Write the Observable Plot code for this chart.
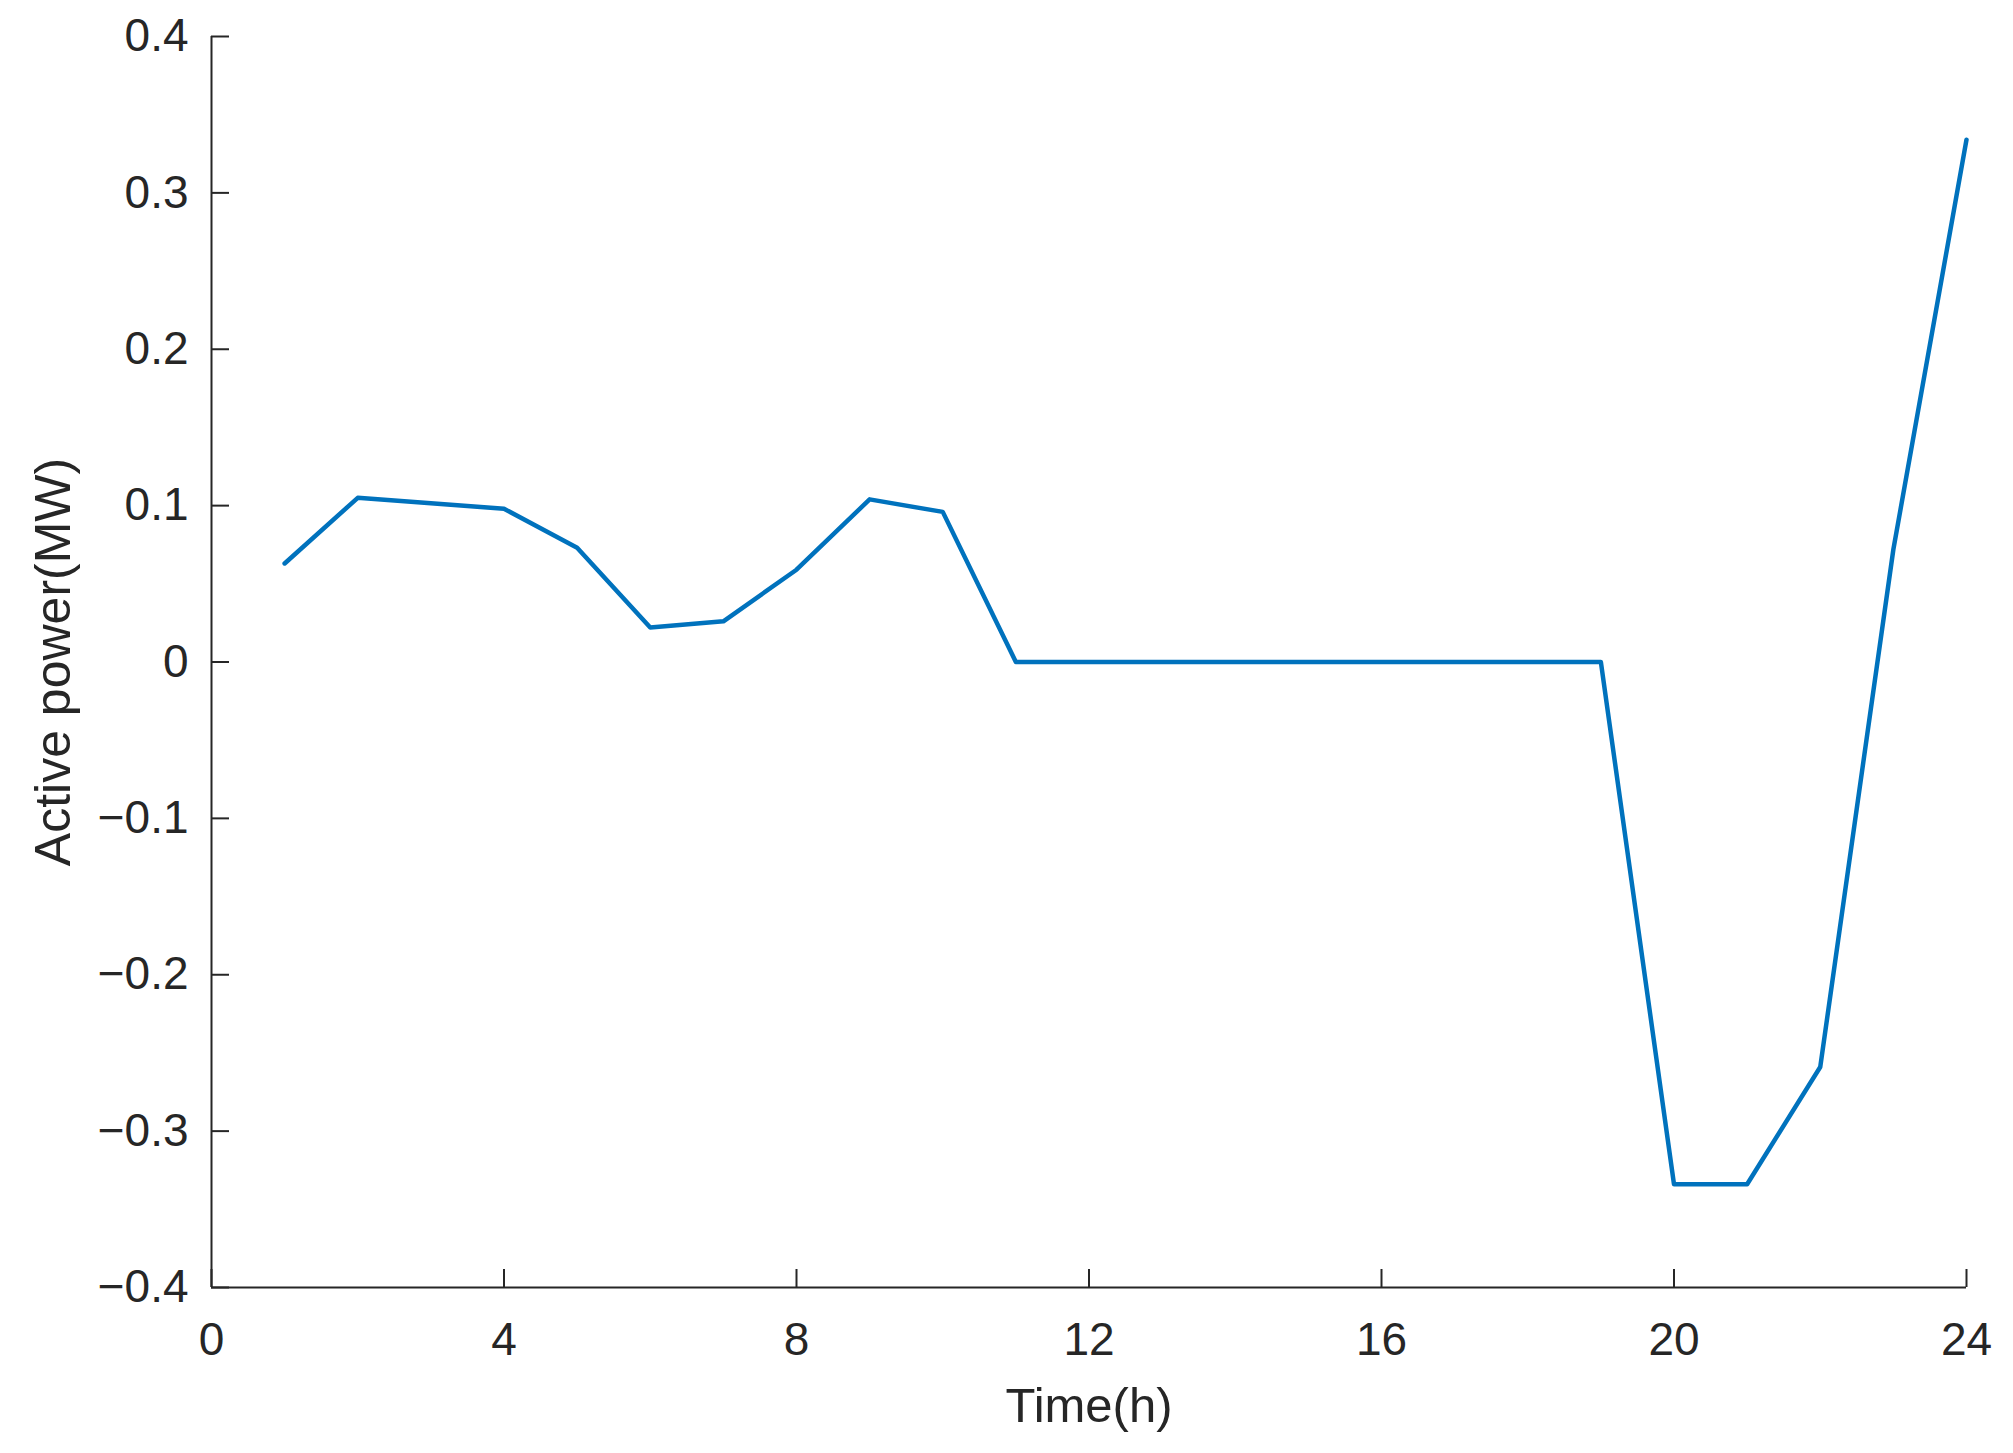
<!DOCTYPE html>
<html>
<head>
<meta charset="utf-8">
<script src="https://cdn.jsdelivr.net/npm/d3@7"></script>
<script src="https://cdn.jsdelivr.net/npm/@observablehq/plot@0.6"></script>
<style>
  html, body { margin: 0; padding: 0; background: #fff; }
  #chart { width: 2013px; height: 1453px; }
</style>
</head>
<body>
<div id="chart"></div>
<script>
// Data
const hours = [1,2,3,4,5,6,7,8,9,10,11,12,13,14,15,16,17,18,19,20,21,22,23,24];
const activePower = [0.063,0.105,0.1015,0.098,0.073,0.022,0.026,0.059,0.104,0.096,0,0,0,0,0,0,0,0,0,-0.334,-0.334,-0.259,0.072,0.334];
const xTicks = [0,4,8,12,16,20,24];
const yTicks = [-0.4,-0.3,-0.2,-0.1,0,0.1,0.2,0.3,0.4];
const xLabel = "Time(h)";
const yLabel = "Active power(MW)";

const rows = hours.map((h, i) => ({h, p: activePower[i]}));
const axisColor = "#262626";
const fmt = d => d === 0 ? "0" : d.toFixed(1).replace("-", "\u2212");

const chart = Plot.plot({
  width: 2013,
  height: 1453,
  marginLeft: 211,
  marginRight: 47,
  marginTop: 36,
  marginBottom: 166,
  style: {fontFamily: "'Liberation Sans', Arial, sans-serif", fontSize: "45px", color: axisColor, background: "#fff"},
  x: {domain: [0, 24]},
  y: {domain: [-0.4, 0.4]},
  marks: [
    // tick labels
    Plot.axisX({ticks: xTicks, tickSize: 0, tickPadding: 35, tickFormat: d => String(d), fontSize: 46, fill: axisColor, label: null}),
    Plot.axisY({ticks: yTicks, tickSize: 0, tickPadding: 23, tickFormat: fmt, fontSize: 46, fill: axisColor, label: null}),
    // inward ticks
    Plot.ruleX(xTicks, {x: d => d, y1: -0.4, y2: -0.4, insetBottom: 18, stroke: axisColor, strokeWidth: 2}),
    Plot.ruleY(yTicks, {y: d => d, x1: 0, x2: 0, insetLeft: 18, stroke: axisColor, strokeWidth: 2}),
    // axis lines
    Plot.ruleX([0], {stroke: axisColor, strokeWidth: 2}),
    Plot.ruleY([-0.4], {stroke: axisColor, strokeWidth: 2}),
    // data line
    Plot.line(rows, {x: "h", y: "p", stroke: "#0072BD", strokeWidth: 4.5}),
    // axis titles
    Plot.text([xLabel], {frameAnchor: "bottom", dy: 134, fontSize: 49, fill: axisColor, textAnchor: "middle"}),
    Plot.text([yLabel], {frameAnchor: "left", dx: -158, rotate: -90, fontSize: 50, fill: axisColor, textAnchor: "middle"})
  ]
});
document.getElementById("chart").appendChild(chart);
</script>
</body>
</html>
